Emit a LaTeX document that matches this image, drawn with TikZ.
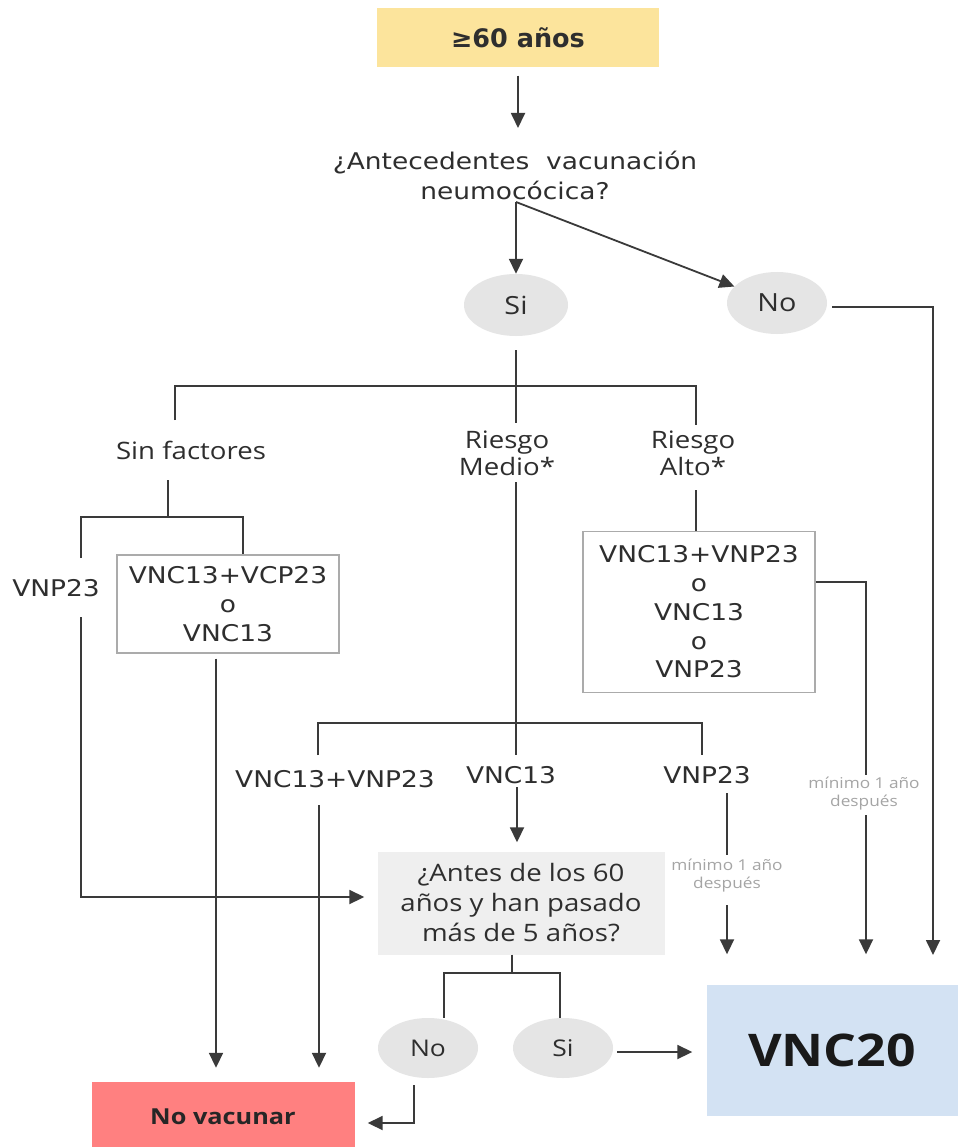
\documentclass[tikz,border=0pt]{standalone}
\usepackage{fontspec}
\setmainfont{Open Sans}
\newfontfamily\dv[FakeStretch=1.15]{DejaVu Sans}
\newfontfamily\dvn{DejaVu Sans}
\newfontfamily\os[FakeStretch=1.15]{Open Sans}
\usetikzlibrary{shapes.geometric,arrows.meta,calc}
\definecolor{lc}{HTML}{3A3A3A}
\definecolor{tc}{HTML}{2E2E2E}
\definecolor{yel}{HTML}{FCE49C}
\definecolor{og}{HTML}{E5E5E5}
\definecolor{qg}{HTML}{EFEFEF}
\definecolor{bc}{HTML}{ABABAB}
\definecolor{red1}{HTML}{FF8080}
\definecolor{blu}{HTML}{D3E2F3}
\definecolor{lgray}{HTML}{A5A5A5}
\begin{document}
\begin{tikzpicture}[x=1pt,y=-1pt,
  ln/.style={draw=lc, line width=1.8pt},
  arr/.style={ln, -{Triangle[length=15pt,width=14pt]}},
  txt/.style={inner sep=0pt, text=tc, align=center},
  dvf/.style={font=\dv\fontsize{23}{29}\selectfont},
  osf/.style={font=\os\fontsize{24}{27}\selectfont},
  oval/.style={ellipse, fill=og, inner sep=0pt, text=tc},
  obox/.style={draw=bc, line width=1.2pt, fill=white, inner sep=0pt, align=center, text=tc},
  small/.style={inner sep=0pt, text=lgray, align=center, font=\os\fontsize{15}{18}\selectfont}]
\useasboundingbox[fill=white] (0,0) rectangle (958,1147);

% nodes
\node[fill=yel, minimum width=282pt, minimum height=59pt, inner sep=0pt, text=tc,
  font=\dvn\bfseries\fontsize{25.5}{30}\selectfont] (top) at (518,38) {≥60 años};
\node[txt, font=\dv\fontsize{23}{30}\selectfont] (q1) at (515,175) {¿Antecedentes\ \ vacunación\\neumocócica?};
\node[oval, minimum width=104pt, minimum height=62pt, font=\os\fontsize{25}{30}\selectfont] (si1) at (516,305) {Si};
\node[oval, minimum width=100pt, minimum height=62pt, font=\os\fontsize{25}{30}\selectfont] (no1) at (777,303) {No};
\node[txt, osf] (sinf) at (191,450) {Sin factores};
\node[txt, osf] (rmed) at (507,453) {Riesgo\\Medio*};
\node[txt, osf] (ralto) at (693,453) {Riesgo\\Alto*};
\node[txt, dvf] (vnpa) at (56,588) {VNP23};
\node[obox, dvf, minimum width=222pt, minimum height=98pt] (box1) at (228,604) {VNC13+VCP23\\o\\VNC13};
\node[obox, minimum width=232pt, minimum height=161pt, font=\dv\fontsize{23}{28.75}\selectfont] (box2) at (699,612)
  {VNC13+VNP23\\o\\VNC13\\o\\VNP23};
\node[txt, dvf] (m1) at (335,779) {VNC13+VNP23};
\node[txt, dvf] (m2) at (511,775) {VNC13};
\node[txt, dvf] (m3) at (707,775) {VNP23};
\node[small] (lab1) at (727,876) {mínimo 1 año\\después};
\node[small] (lab2) at (864,794) {mínimo 1 año\\después};
\node[fill=qg, minimum width=287pt, minimum height=103pt, inner sep=0pt, text=tc, align=center,
  font=\os\fontsize{24}{30}\selectfont] (q2) at (521,903) {¿Antes de los 60\\años y han pasado\\más de 5 años?};
\node[oval, minimum width=100pt, minimum height=60pt, font=\os\fontsize{23}{28}\selectfont] (no2) at (428,1048) {No};
\node[oval, minimum width=100pt, minimum height=60pt, font=\os\fontsize{23}{28}\selectfont] (si2) at (563,1048) {Si};
\node[fill=red1, minimum width=263pt, minimum height=70pt, inner sep=0pt, text=black!85,
  font=\os\bfseries\fontsize{22}{26}\selectfont] (novac) at (223,1117) {No vacunar};
\node[fill=blu, minimum width=251pt, minimum height=131pt, inner sep=0pt, text=black!90,
  font=\os\bfseries\fontsize{45}{50}\selectfont] (vnc20) at (832,1050) {VNC20};

% coordinates
\coordinate (q1in) at (518,128);
\coordinate (jq1) at (516,202);
\coordinate (rx) at (933,955);
\coordinate (s1a) at (516,350);
\coordinate (s1b) at (516,423);
\coordinate (sfTop) at (175,420);
\coordinate (bL) at (175,386);
\coordinate (bR) at (696,386);
\coordinate (raTop) at (696,425);
\coordinate (ra1) at (696,490);
\coordinate (sf1) at (168,480);
\coordinate (sf2) at (168,517);
\coordinate (sbL) at (81,517);
\coordinate (sbR) at (243,517);
\coordinate (vpTop) at (81,558);
\coordinate (vp1) at (81,617);
\coordinate (rm1) at (516,482);
\coordinate (m2top) at (516,755);
\coordinate (mbL) at (318,723);
\coordinate (mbR) at (702,723);
\coordinate (m1top) at (318,755);
\coordinate (m3top) at (702,755);
\coordinate (m1bot) at (319,805);
\coordinate (m2bot) at (517,787);
\coordinate (m3a) at (727,793);
\coordinate (l1top) at (727,855);
\coordinate (l1bot) at (727,905);
\coordinate (l2top) at (866,775);
\coordinate (l2bot) at (866,815);
\coordinate (qb) at (512,973);
\coordinate (qbL) at (444,973);
\coordinate (qbR) at (560,973);
\coordinate (n2a) at (414,1085);

% connectors
\draw[arr, shorten <=8pt] (top.south) -- (q1in);
\draw[arr] (jq1) -- (si1);
\draw[arr] (jq1) -- (no1);
\draw[arr, shorten <=5pt] ([yshift=-4pt]no1.east) -| (rx);
\draw[ln] (s1a) -- (s1b);
\draw[ln] (sfTop) -- (bL) -- (bR) -- (raTop);
\draw[ln] (ra1) -- (ra1 |- box2.north);
\draw[ln] (sf1) -- (sf2);
\draw[ln] (vpTop) -- (sbL) -- (sbR) -- (sbR |- box1.north);
\draw[arr, shorten >=13pt] (vp1) |- ([yshift=6pt]q2.west);
\draw[arr, shorten <=5pt, shorten >=14pt] ([xshift=-12pt]box1.south) -- ([xshift=-12pt]box1.south |- novac.north);
\draw[ln] (rm1) -- (m2top);
\draw[ln] (m1top) -- (mbL) -- (mbR) -- (m3top);
\draw[arr, shorten >=14pt] (m1bot) -- (m1bot |- novac.north);
\draw[arr, shorten >=9pt] (m2bot) -- (m2bot |- q2.north);
\draw[ln] (m3a) -- (l1top);
\draw[arr, shorten >=30pt] (l1bot) -- (l1bot |- vnc20.north);
\draw[ln] ([yshift=30pt]box2.east) -| (l2top);
\draw[arr, shorten >=30pt] (l2bot) -- (l2bot |- vnc20.north);
\draw[ln] (q2.south -| qb) -- (qb);
\draw[ln] (qbL |- no2.north) -- (qbL) -- (qbR) -- (qbR |- si2.north);
\draw[arr, shorten <=4pt, shorten >=14pt] ([yshift=-4pt]si2.east) -- ([yshift=-4pt]si2.east -| vnc20.west);
\draw[arr, shorten >=13pt] (n2a) |- ([yshift=-6pt]novac.east);
\end{tikzpicture}
\end{document}
